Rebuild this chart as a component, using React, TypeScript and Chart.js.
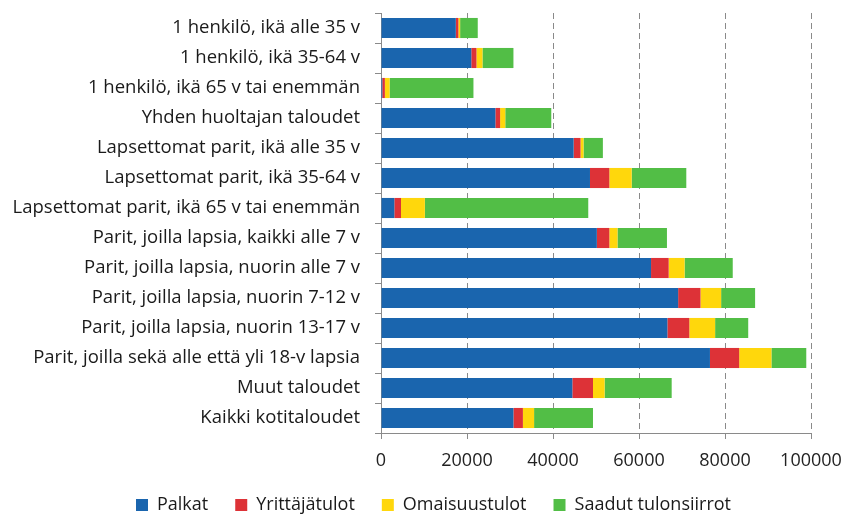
import React, { useEffect, useRef } from "react";
import { Chart, registerables } from "chart.js";

Chart.register(...registerables);

const categories = [
  "1 henkilö, ikä alle 35 v",
  "1 henkilö, ikä 35-64 v",
  "1 henkilö, ikä 65 v tai enemmän",
  "Yhden huoltajan taloudet",
  "Lapsettomat parit, ikä alle 35 v",
  "Lapsettomat parit, ikä 35-64 v",
  "Lapsettomat parit, ikä 65 v tai enemmän",
  "Parit, joilla lapsia, kaikki alle 7 v",
  "Parit, joilla lapsia, nuorin alle 7 v",
  "Parit, joilla lapsia, nuorin 7-12 v",
  "Parit, joilla lapsia, nuorin 13-17 v",
  "Parit, joilla sekä alle että yli 18-v lapsia",
  "Muut taloudet",
  "Kaikki kotitaloudet",
];

const palkat = [17400, 21000, 300, 26600, 44800, 48600, 3100, 50200, 62800, 69100, 66600, 76500, 44500, 30800];
const yrittajatulot = [600, 1200, 600, 1100, 1600, 4500, 1550, 2900, 4100, 5200, 5100, 6800, 4800, 2200];
const omaisuustulot = [400, 1400, 1100, 1200, 700, 5200, 5550, 1900, 3700, 4800, 6000, 7500, 2700, 2600];
const tulonsiirrot = [4100, 7200, 19500, 10700, 4500, 12700, 38000, 11500, 11200, 7900, 7700, 8100, 15600, 13700];

const seriesNames = ["Palkat", "Yrittäjätulot", "Omaisuustulot", "Saadut tulonsiirrot"];
const seriesColors = ["#1A65AE", "#DD3237", "#FFD70C", "#52BE46"];
const xTicks = [0, 20000, 40000, 60000, 80000, 100000];

export default function App() {
  const ref = useRef<HTMLCanvasElement | null>(null);
  useEffect(() => {
    document.body.style.margin = "0";
    const ctx = ref.current!;
    const data = [palkat, yrittajatulot, omaisuustulot, tulonsiirrot];
    const chart = new Chart(ctx, {
      type: "bar",
      data: {
        labels: categories,
        datasets: seriesNames.map((n, i) => ({
          label: n,
          data: data[i],
          backgroundColor: seriesColors[i],
          borderWidth: 0,
          categoryPercentage: 1,
          barPercentage: 0.67,
        })),
      },
      options: {
        indexAxis: "y",
        animation: false,
        responsive: false,
        maintainAspectRatio: false,
        layout: { padding: { top: 13, right: 34, left: 0, bottom: -10 } },
        plugins: {
          tooltip: { enabled: false },
          legend: {
            position: "bottom",
            labels: {
              boxWidth: 12,
              boxHeight: 12,
              padding: 27,
              color: "#1a1a1a",
              font: { family: "Open Sans", size: 18 },
            },
          },
        },
        scales: {
          x: {
            stacked: true,
            min: 0,
            max: 100000,
            afterBuildTicks: (s: any) => {
              s.ticks = xTicks.map((v) => ({ value: v }));
            },
            border: { display: true, color: "#8a8a8a", width: 1, dash: [6, 4] },
            grid: {
              display: true,
              color: "#8a8a8a",
              tickColor: "#8a8a8a",
              lineWidth: 1,
              tickLength: 6,
            },
            ticks: {
              color: "#222",
              padding: 11,
              maxRotation: 0,
              font: { family: "Open Sans", size: 18 },
              callback: (v: any) => String(v),
            },
            afterFit: (s: any) => {
              s.height = 36;
              s.paddingLeft = 0;
              s.paddingRight = 0;
            },
          },
          y: {
            stacked: true,
            border: { display: true, color: "#8a8a8a", width: 1 },
            grid: {
              display: true,
              drawOnChartArea: false,
              offset: true,
              color: "#8a8a8a",
              tickColor: "#8a8a8a",
              tickLength: 6,
            },
            ticks: {
              color: "#1a1a1a",
              padding: 15,
              font: { family: "Open Sans", size: 18.5 },
            },
            afterFit: (s: any) => {
              s.width = 381;
              s.paddingTop = 0;
              s.paddingBottom = 0;
            },
          },
        },
      },
      plugins: [
        {
          id: "legendShift",
          afterLayout: (c: any) => {
            if (c.legend) c.legend.left = 56;
          },
        },
      ],
    });
    return () => chart.destroy();
  }, []);
  return (
    <div style={{ width: 845, height: 514 }}>
      <canvas ref={ref} width={845} height={514} style={{ width: 845, height: 514 }} />
    </div>
  );
}
